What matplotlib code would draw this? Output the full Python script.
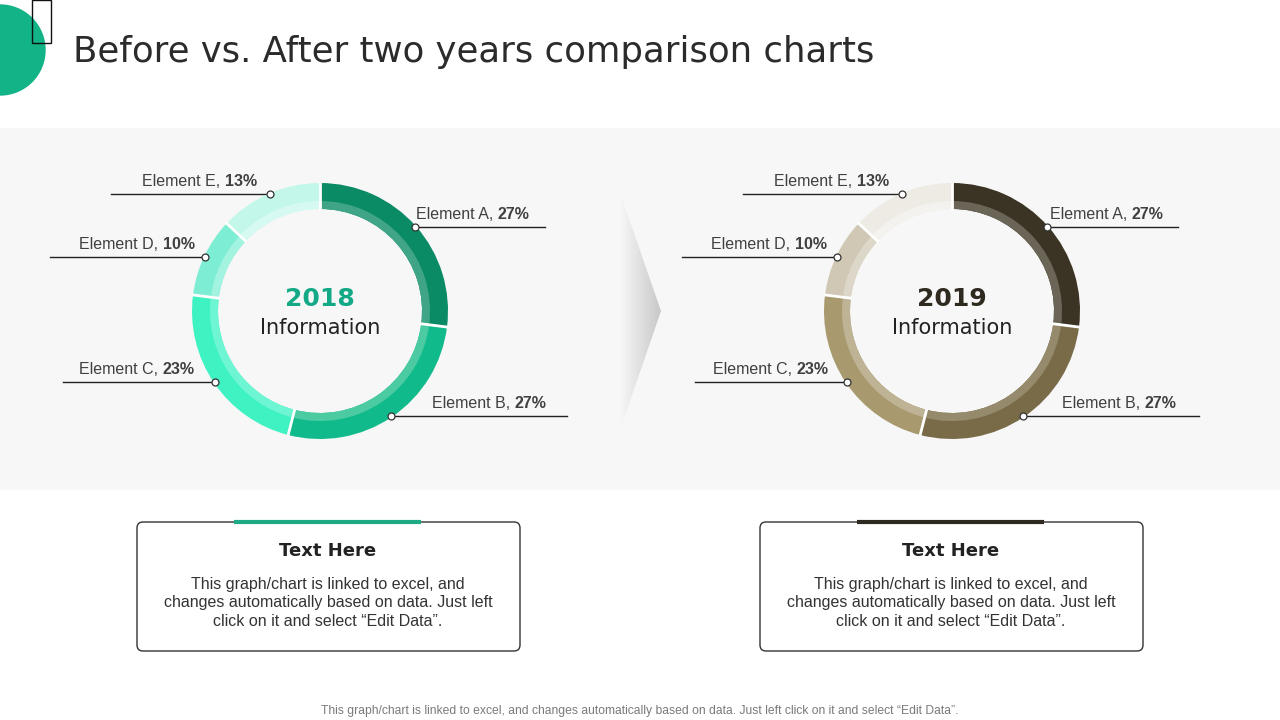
import numpy as np
import matplotlib
matplotlib.use('Agg')
import matplotlib.pyplot as plt
from matplotlib.patches import Rectangle, Circle, FancyBboxPatch, Polygon

# ---- data ----
elements = ['Element A', 'Element B', 'Element C', 'Element D', 'Element E']
share_2018 = [27, 27, 23, 10, 13]
share_2019 = [27, 27, 23, 10, 13]
years = ['2018', '2019']

colors_2018 = ['#0B8A66', '#11BA8A', '#3FF2C2', '#7DEED3', '#C3F7EA']
inner_2018 = ['#3FA586', '#4CCBA2', '#6EF5D2', '#A2F3DF', '#D6FAF1']
colors_2019 = ['#3B3323', '#7A6B48', '#A8996F', '#D0C8B5', '#EEEBE5']
inner_2019 = ['#6B6558', '#968A6D', '#BEB394', '#DDD7C9', '#F4F2EE']

title = 'Before vs. After two years comparison charts'
body = ('This graph/chart is linked to excel, and\n'
        'changes automatically based on data. Just left\n'
        'click on it and select \u201cEdit Data\u201d.')
footer = ('This graph/chart is linked to excel, and changes automatically based on data. '
          'Just left click on it and select \u201cEdit Data\u201d.')

W, H = 1280, 720
fig = plt.figure(figsize=(12.8, 7.2), dpi=100)
ax = fig.add_axes([0, 0, 1, 1])
ax.set_xlim(0, W)
ax.set_ylim(H, 0)
ax.axis('off')

# header decorations
ax.add_patch(Circle((0, 50), 45, color='#12B386', zorder=2))
ax.add_patch(Rectangle((32, 0), 19, 43, fill=False, ec='#111111', lw=1, zorder=3))
t = ax.text(73, 52, title, fontsize=24, family='DejaVu Sans', color='#2b2b2b',
            va='center', ha='left')
fig.canvas.draw()
w = t.get_window_extent().width
t.set_fontsize(24 * 801 / w)

# grey band
ax.add_patch(Rectangle((0, 128), W, 362, color='#F7F7F7', zorder=0, lw=0))

# gradient chevron
grad = np.tile(np.linspace(0, 1, 64), (16, 1))
cmap = matplotlib.colors.LinearSegmentedColormap.from_list('g', ['#F7F7F7', '#C8C8C8'])
im = ax.imshow(grad, extent=(620, 661, 430, 193), cmap=cmap, aspect='auto', zorder=1)
tri = Polygon([(620, 193), (661, 311), (620, 430)], closed=True, transform=ax.transData)
im.set_clip_path(tri)
ax.set_xlim(0, W)
ax.set_ylim(H, 0)

# donut layouts: center, label text x, line far end x, year colour
layouts = [
    dict(cx=320, cy=311, tx=[416, 432, 79, 79, 142], lx=[545, 567, 63, 50, 111],
         year_color='#13A987'),
    dict(cx=952, cy=311, tx=[1050, 1062, 713, 711, 774], lx=[1178, 1199, 695, 682, 743],
         year_color='#2E2A1F'),
]
R_OUT, R_MID, R_IN = 128, 110, 102

for values, outer, inner, year, lay in zip([share_2018, share_2019],
                                           [colors_2018, colors_2019],
                                           [inner_2018, inner_2019], years, layouts):
    cx, cy = lay['cx'], lay['cy']
    pax = fig.add_axes([(cx - R_OUT) / W, 1 - (cy + R_OUT) / H, 2 * R_OUT / W, 2 * R_OUT / H])
    pax.pie(values, colors=outer, startangle=90, counterclock=False, radius=1,
            wedgeprops=dict(width=(R_OUT - R_IN) / R_OUT, linewidth=0))
    pax.pie(values, colors=inner, startangle=90, counterclock=False, radius=R_MID / R_OUT,
            wedgeprops=dict(width=(R_MID - R_IN) / R_OUT, linewidth=0))
    pax.set_xlim(-1, 1)
    pax.set_ylim(-1, 1)
    pax.axis('off')

    total = sum(values)
    cum = np.cumsum([0] + values[:-1])
    # white separators between slices
    for c in cum:
        a = np.radians(c / total * 360)
        pax.plot([R_IN / R_OUT * np.sin(a) * 0.99, 1.01 * np.sin(a)],
                 [R_IN / R_OUT * np.cos(a) * 0.99, 1.01 * np.cos(a)],
                 color='white', lw=2, solid_capstyle='butt')

    ax.text(cx, cy - 12, year, fontsize=18, fontweight='bold', color=lay['year_color'],
            ha='center', va='center', family='DejaVu Sans')
    ax.text(cx, cy + 17, 'Information', fontsize=15, color='#222222',
            ha='center', va='center', family='DejaVu Sans')

    for i, (name, v) in enumerate(zip(elements, values)):
        theta = np.radians((cum[i] + v / 2) / total * 360)
        r = (R_OUT - 1) / R_OUT
        dx = cx + (R_OUT - 1) * np.sin(theta)
        dy = cy - (R_OUT - 1) * np.cos(theta)
        ax.plot([dx, lay['lx'][i]], [dy, dy], color='#222222', lw=1, zorder=4)
        pax.plot(r * np.sin(theta), r * np.cos(theta), 'o', ms=5, mfc='white',
                 mec='#333333', mew=0.9, zorder=5, clip_on=False)
        t1 = ax.text(lay['tx'][i], dy - 5, name + ', ', fontsize=11.5, color='#404040',
                     family='Liberation Sans', ha='left', va='bottom')
        ax.annotate(f'{v}%', xy=(1, 0), xycoords=t1, fontsize=11.5, color='#404040',
                    fontweight='bold', family='Liberation Sans', ha='left', va='bottom')

# text boxes
for bx, accent in [(137, '#1DAA84'), (760, '#2E2A1F')]:
    ax.add_patch(FancyBboxPatch((bx, 522), 383, 129, boxstyle='round,pad=0,rounding_size=6',
                                fc='white', ec='#333333', lw=1, zorder=3))
    ax.plot([bx + 97, bx + 284], [522, 522], color=accent, lw=3, zorder=4,
            solid_capstyle='butt')
    ax.text(bx + 191, 551, 'Text Here', fontsize=13, fontweight='bold', color='#222222',
            ha='center', va='center', family='DejaVu Sans', zorder=5)
    ax.text(bx + 191, 603, body, fontsize=11.5, color='#333333', ha='center', va='center',
            family='Liberation Sans', linespacing=1.32, zorder=5)

ax.text(640, 711, footer, fontsize=8.7, color='#7a7a7a', ha='center', va='center',
        family='Liberation Sans')

fig.savefig('out.png', dpi=100)
